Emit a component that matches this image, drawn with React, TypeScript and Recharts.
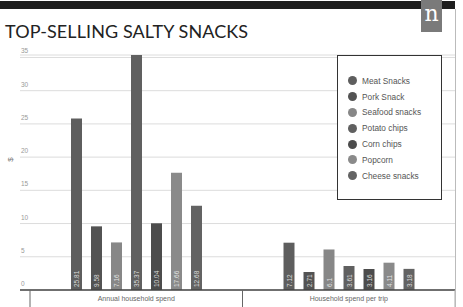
import React from "react";
import { BarChart, Bar, XAxis, YAxis, CartesianGrid, LabelList } from "recharts";

// Spend categories on the x axis
const categories = ["Annual household spend", "Household spend per trip"];

// Dollar values per snack, one entry per category
const meatSnacks = [25.81, 7.12];
const porkSnack = [9.58, 2.71];
const seafoodSnacks = [7.16, 6.1];
const potatoChips = [35.37, 3.61];
const cornChips = [10.04, 3.16];
const popcorn = [17.66, 4.11];
const cheeseSnacks = [12.68, 3.18];

const yTicks = [0, 5, 10, 15, 20, 25, 30, 35];

const series = [
  { key: "meat", name: "Meat Snacks", values: meatSnacks, color: "#5e5e5e" },
  { key: "pork", name: "Pork Snack", values: porkSnack, color: "#535353" },
  { key: "seafood", name: "Seafood snacks", values: seafoodSnacks, color: "#878787" },
  { key: "potato", name: "Potato chips", values: potatoChips, color: "#606060" },
  { key: "corn", name: "Corn chips", values: cornChips, color: "#4c4c4c" },
  { key: "popcorn", name: "Popcorn", values: popcorn, color: "#8a8a8a" },
  { key: "cheese", name: "Cheese snacks", values: cheeseSnacks, color: "#636363" },
];

const data = categories.map((cat, i) => {
  const row: Record<string, string | number> = { category: cat };
  series.forEach((s) => {
    row[s.key] = s.values[i];
  });
  return row;
});

const WIDTH = 463;
const HEIGHT = 307;
const PLOT_LEFT = 20;
const PLOT_RIGHT = 455;
const X_PAD_LEFT = 10;
const HALF_BAND = (PLOT_RIGHT - PLOT_LEFT - X_PAD_LEFT) / categories.length / 2;
const FONT = "Liberation Sans, Arial, sans-serif";

const YTick = (props: any) => {
  const { y, payload } = props;
  return (
    <text x={21} y={y - 4} fontSize={6.5} fill="#999" fontFamily={FONT}>
      {payload.value}
    </text>
  );
};

const XTick = (props: any) => {
  const { x, y, payload, index } = props;
  const last = index === categories.length - 1;
  return (
    <g>
      <line x1={x - HALF_BAND} x2={x - HALF_BAND} y1={y - 8} y2={y + 17} stroke="#666" strokeWidth={1} />
      {last && (
        <line x1={x + HALF_BAND} x2={x + HALF_BAND} y1={y - 8} y2={y + 17} stroke="#aaa" strokeWidth={1} />
      )}
      <text x={x} y={y + 3} textAnchor="middle" fontSize={7} fill="#666" fontFamily={FONT}>
        {payload.value}
      </text>
    </g>
  );
};

const ValueLabel = (props: any) => {
  const { x, y, width, height, value } = props;
  const cx = x + width / 2 + 2.5;
  const cy = y + height - 3;
  return (
    <text
      x={cx}
      y={cy}
      transform={`rotate(-90 ${cx} ${cy})`}
      fontSize={6.5}
      fill="#f2f2f2"
      fillOpacity={0.85}
      fontFamily={FONT}
    >
      {value}
    </text>
  );
};

const LegendBox = () => (
  <div
    style={{
      position: "absolute",
      left: 337,
      top: 55,
      width: 103,
      height: 126,
      border: "1px solid #333",
      background: "#fff",
      paddingTop: 17,
    }}
  >
    {series.map((s) => (
      <div key={s.key} style={{ display: "flex", alignItems: "center", height: 15.8, paddingLeft: 10 }}>
        <span
          style={{
            width: 9,
            height: 9,
            borderRadius: "50%",
            background: s.color,
            display: "inline-block",
            marginRight: 5,
          }}
        />
        <span style={{ fontSize: 8.3, color: "#555", fontFamily: FONT }}>{s.name}</span>
      </div>
    ))}
  </div>
);

export default function App() {
  return (
    <div style={{ position: "fixed", left: 0, top: 0, width: WIDTH, height: HEIGHT, background: "#fff", overflow: "hidden" }}>
      <div style={{ position: "absolute", left: 0, top: 0 }}>
        <BarChart
          width={WIDTH}
          height={HEIGHT}
          data={data}
          margin={{ top: 55, right: WIDTH - PLOT_RIGHT, bottom: 0, left: 0 }}
          barSize={11}
          barGap={9}
        >
          <CartesianGrid vertical={false} stroke="#dcdcdc" />
          <YAxis
            width={PLOT_LEFT}
            domain={[0, 35]}
            ticks={yTicks}
            axisLine={false}
            tickLine={false}
            tick={<YTick />}
          />
          <XAxis
            dataKey="category"
            height={17}
            padding={{ left: X_PAD_LEFT, right: 0 }}
            axisLine={{ stroke: "#444", strokeWidth: 1.5 }}
            tickLine={false}
            tick={<XTick />}
            interval={0}
          />
          {series.map((s) => (
            <Bar key={s.key} dataKey={s.key} name={s.name} fill={s.color} isAnimationActive={false}>
              <LabelList dataKey={s.key} content={<ValueLabel />} />
            </Bar>
          ))}
        </BarChart>
      </div>
      <div style={{ position: "absolute", left: 0, top: 1, width: PLOT_RIGHT, height: 8, background: "#1e1e1e" }} />
      <div style={{ position: "absolute", left: PLOT_RIGHT, top: 9, width: 1, height: HEIGHT - 9, background: "#bbb" }} />
      <div
        style={{
          position: "absolute",
          left: 421,
          top: 0,
          width: 21,
          height: 32,
          background: "#7a7a7a",
          color: "#fff",
          fontFamily: "DejaVu Serif, serif",
          fontSize: 22,
          lineHeight: "28px",
          textAlign: "center",
        }}
      >
        n
      </div>
      <div
        style={{
          position: "absolute",
          left: 5,
          top: 20,
          fontFamily: "Lato, sans-serif",
          fontSize: 18,
          color: "#222",
          whiteSpace: "nowrap",
          letterSpacing: 0.1,
        }}
      >
        TOP-SELLING SALTY SNACKS
      </div>
      <div
        style={{
          position: "absolute",
          left: 8,
          top: 155,
          fontSize: 8,
          color: "#777",
          fontFamily: FONT,
          transform: "rotate(-90deg)",
        }}
      >
        $
      </div>
      <LegendBox />
    </div>
  );
}
